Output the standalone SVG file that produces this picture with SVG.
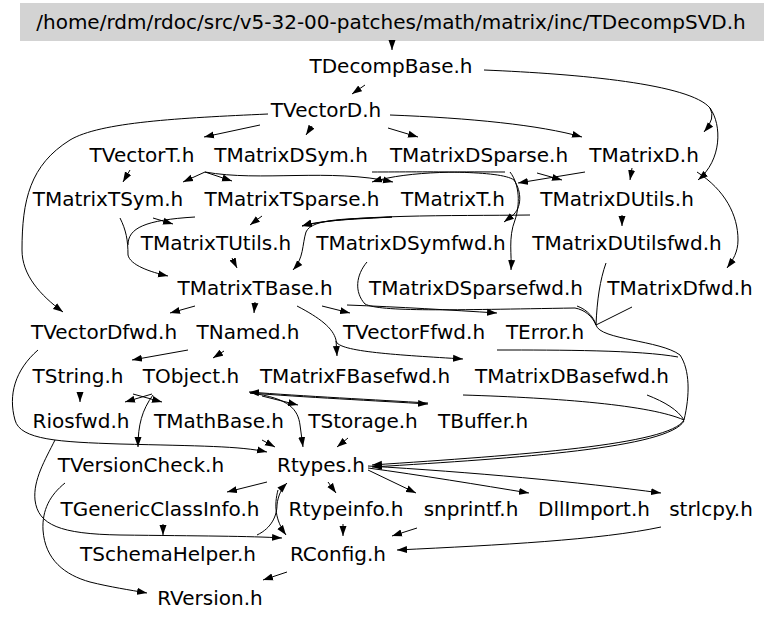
<svg xmlns="http://www.w3.org/2000/svg" width="768" height="621" viewBox="0 0 768 621">
<style>
text{font-family:"DejaVu Sans","Liberation Sans",sans-serif;font-size:20px;fill:#000;text-anchor:middle}
.e path{fill:none;stroke:#000;stroke-width:1;marker-end:url(#ah)}
.e path.nm{marker-end:none}
</style>
<defs>
<marker id="ah" markerUnits="userSpaceOnUse" markerWidth="10" markerHeight="8" refX="10" refY="3.5" orient="auto" viewBox="0 0 10 7">
<path d="M0,0 L10,3.5 L0,7 z" fill="#000"/>
</marker>
</defs>
<rect width="768" height="621" fill="#fff"/>
<g id="n_TDecompSVD"><rect x="20" y="3" width="744" height="38" fill="#d3d3d3"/><text x="391" y="29">/home/rdm/rdoc/src/v5-32-00-patches/math/matrix/inc/TDecompSVD.h</text></g>
<g id="n_TDecompBase"><text x="391" y="73">TDecompBase.h</text></g>
<g id="n_TVectorD"><text x="326" y="117">TVectorD.h</text></g>
<g id="n_TVectorT"><text x="142" y="162">TVectorT.h</text></g>
<g id="n_TMatrixDSym"><text x="291" y="162">TMatrixDSym.h</text></g>
<g id="n_TMatrixDSparse"><text x="479" y="162">TMatrixDSparse.h</text></g>
<g id="n_TMatrixD"><text x="644" y="162">TMatrixD.h</text></g>
<g id="n_TMatrixTSym"><text x="108" y="206">TMatrixTSym.h</text></g>
<g id="n_TMatrixTSparse"><text x="292" y="206">TMatrixTSparse.h</text></g>
<g id="n_TMatrixT"><text x="453" y="206">TMatrixT.h</text></g>
<g id="n_TMatrixDUtils"><text x="617" y="206">TMatrixDUtils.h</text></g>
<g id="n_TMatrixTUtils"><text x="216" y="250">TMatrixTUtils.h</text></g>
<g id="n_TMatrixDSymfwd"><text x="411" y="250">TMatrixDSymfwd.h</text></g>
<g id="n_TMatrixDUtilsfwd"><text x="627" y="250">TMatrixDUtilsfwd.h</text></g>
<g id="n_TMatrixTBase"><text x="255" y="295">TMatrixTBase.h</text></g>
<g id="n_TMatrixDSparsefwd"><text x="476" y="295">TMatrixDSparsefwd.h</text></g>
<g id="n_TMatrixDfwd"><text x="680" y="295">TMatrixDfwd.h</text></g>
<g id="n_TVectorDfwd"><text x="104" y="339">TVectorDfwd.h</text></g>
<g id="n_TNamed"><text x="248" y="339">TNamed.h</text></g>
<g id="n_TVectorFfwd"><text x="414" y="339">TVectorFfwd.h</text></g>
<g id="n_TError"><text x="545" y="339">TError.h</text></g>
<g id="n_TString"><text x="78" y="383">TString.h</text></g>
<g id="n_TObject"><text x="191" y="383">TObject.h</text></g>
<g id="n_TMatrixFBasefwd"><text x="355" y="383">TMatrixFBasefwd.h</text></g>
<g id="n_TMatrixDBasefwd"><text x="572" y="383">TMatrixDBasefwd.h</text></g>
<g id="n_Riosfwd"><text x="81" y="428">Riosfwd.h</text></g>
<g id="n_TMathBase"><text x="219" y="428">TMathBase.h</text></g>
<g id="n_TStorage"><text x="363" y="428">TStorage.h</text></g>
<g id="n_TBuffer"><text x="483" y="428">TBuffer.h</text></g>
<g id="n_TVersionCheck"><text x="141" y="472">TVersionCheck.h</text></g>
<g id="n_Rtypes"><text x="321" y="472">Rtypes.h</text></g>
<g id="n_TGenericClassInfo"><text x="160" y="516">TGenericClassInfo.h</text></g>
<g id="n_Rtypeinfo"><text x="346" y="516">Rtypeinfo.h</text></g>
<g id="n_snprintf"><text x="471" y="516">snprintf.h</text></g>
<g id="n_DllImport"><text x="594" y="516">DllImport.h</text></g>
<g id="n_strlcpy"><text x="711" y="516">strlcpy.h</text></g>
<g id="n_TSchemaHelper"><text x="168" y="561">TSchemaHelper.h</text></g>
<g id="n_RConfig"><text x="338" y="561">RConfig.h</text></g>
<g id="n_RVersion"><text x="210" y="605">RVersion.h</text></g>
<g id="connectors" class="e">
<path d="M392,41 L392,50"/>
<path d="M365,85 L352,94"/>
<path d="M484,70 C580,74 690,84 710,108 Q716,118 704,132"/>
<path d="M710,108 C722,125 722,160 698,180"/>
<path d="M268,114 C180,118 100,122 70,140 C30,165 22,200 22,250 C22,275 40,295 63,312"/>
<path d="M260,125 L204,137"/>
<path d="M312,126 L306,135"/>
<path d="M388,128 L418,137"/>
<path d="M390,115 C470,118 540,125 582,137"/>
<path d="M130,170 L123,182"/>
<path d="M205,172 L183,182"/>
<path d="M205,172 L232,181"/>
<path d="M205,172 C260,182 330,168 393,182"/>
<path d="M505,172 C470,172 410,170 372,182"/>
<path d="M372,172 C430,172 500,170 514,180 C522,192 522,208 512,216 L504,222"/>
<path d="M585,172 L518,183"/>
<path d="M537,173 L562,180"/>
<path d="M632,168 L630,180"/>
<path d="M697,172 C725,190 738,215 738,240 C738,252 733,260 727,268"/>
<path d="M510,172 C520,185 520,205 515,220 C508,238 512,255 511,270"/>
<path d="M120,218 C126,230 128,240 128,255 C130,265 150,272 168,276"/>
<path class="nm" d="M195,217 C145,220 128,228 128,245"/>
<path d="M153,218 L173,224"/>
<path d="M262,216 L250,225"/>
<path d="M392,217 C360,219 320,220 302,226"/>
<path d="M392,217 C350,219 312,218 306,232 C302,245 304,258 293,270"/>
<path d="M530,215 C450,216 350,214 302,226"/>
<path d="M622,215 L622,226"/>
<path d="M232,258 L237,268"/>
<path class="nm" d="M367,262 C356,275 354,292 365,304 C380,312 450,310 575,308 C585,310 592,316 596,325"/>
<path class="nm" d="M577,306 C588,310 594,318 596,325"/>
<path class="nm" d="M606,263 C600,280 597,300 596,325"/>
<path class="nm" d="M632,307 L596,325"/>
<path d="M596,325 C600,340 660,340 680,355 C690,370 690,395 684,420 C670,445 520,455 372,465"/>
<path class="nm" d="M497,350 C560,350 640,350 678,357"/>
<path class="nm" d="M463,395 C560,398 650,405 684,420"/>
<path class="nm" d="M647,395 C665,402 678,410 684,420"/>
<path d="M684,421 C668,448 520,458 372,467"/>
<path d="M195,306 L170,313"/>
<path d="M255,302 L254,313"/>
<path d="M297,306 C320,318 333,328 336,340 L337,356"/>
<path d="M336,341 C338,352 400,355 463,359"/>
<path d="M322,306 L350,313"/>
<path d="M347,305 C400,307 450,310 497,313"/>
<path d="M38,350 C15,370 8,395 15,420 C20,440 60,442 120,444 C200,446 240,446 267,452"/>
<path d="M188,350 L132,360"/>
<path d="M224,351 L213,358"/>
<path d="M80,393 L80,402"/>
<path d="M133,394 L162,402"/>
<path d="M152,394 L125,402"/>
<path d="M153,395 C142,410 138,425 138,447"/>
<path d="M250,393 C300,397 380,401 428,404"/>
<path d="M428,403 C380,400 300,396 249,392"/>
<path d="M262,396 L298,405"/>
<path d="M250,393 C290,398 298,410 300,425 L303,447"/>
<path d="M262,440 L275,447"/>
<path d="M348,438 L337,447"/>
<path d="M55,440 C45,460 33,480 35,500 C38,525 60,534 120,535 C200,536 250,536 282,538"/>
<path d="M65,483 C50,495 42,510 43,530 C45,560 65,575 90,582 C110,587 130,590 147,593"/>
<path d="M267,482 L227,492"/>
<path d="M328,482 L336,493"/>
<path d="M278,490 C274,505 275,520 286,535"/>
<path d="M257,535 C272,528 277,515 277,505 C278,495 282,488 287,483"/>
<path d="M163,524 L163,535"/>
<path d="M343,524 L343,536"/>
<path d="M417,528 L392,536"/>
<path d="M661,527 C600,540 500,545 397,550"/>
<path d="M287,572 L263,580"/>
<path d="M368,470 L416,493"/>
<path d="M368,468 C420,475 480,485 529,493"/>
<path d="M368,466 C470,472 580,482 661,493"/>
</g>
</svg>
